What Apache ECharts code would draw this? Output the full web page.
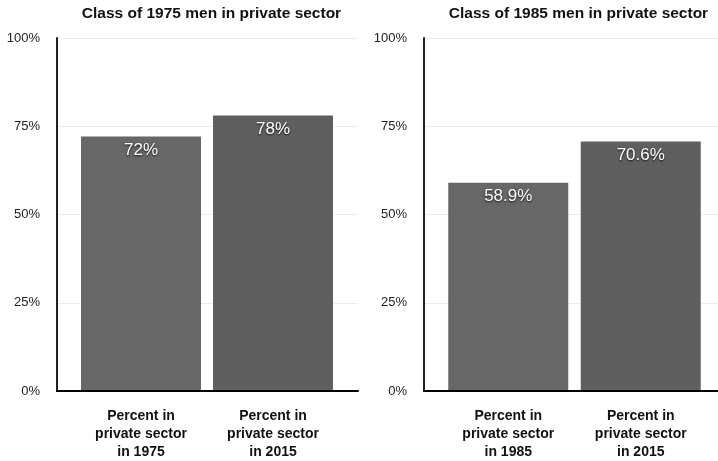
<!DOCTYPE html>
<html>
<head>
<meta charset="utf-8">
<script src="https://cdn.jsdelivr.net/npm/echarts@6/dist/echarts.min.js"></script>
<style>
html,body{margin:0;padding:0;background:#fff;}
#c{width:718px;height:461px;}
</style>
</head>
<body>
<div id="c"></div>
<script>
const titles = ['Class of 1975 men in private sector', 'Class of 1985 men in private sector'];
const categories1 = ['Percent in\nprivate sector\nin 1975', 'Percent in\nprivate sector\nin 2015'];
const categories2 = ['Percent in\nprivate sector\nin 1985', 'Percent in\nprivate sector\nin 2015'];
const values1 = [72, 78];
const values2 = [58.9, 70.6];
const labels1 = ['72%', '78%'];
const labels2 = ['58.9%', '70.6%'];
const yTicks = [0, 25, 50, 75, 100];

const FONT = '"Liberation Sans", Arial, Helvetica, sans-serif';
const barColors = ['#676767', '#5f5f5f'];

const chart = echarts.init(document.getElementById('c'), null, {renderer: 'canvas'});

const axisGrids = [
  {left: 57, top: 38, width: 301, height: 353},
  {left: 424, top: 38, width: 294, height: 353}
];
const barGrids = [
  {left: 75, top: 38, width: 264, height: 353},
  {left: 442, top: 38, width: 265, height: 353}
];

function valueAxis(gi, showAll) {
  return {
    type: 'value', gridIndex: gi, min: yTicks[0], max: yTicks[yTicks.length - 1],
    interval: yTicks[1] - yTicks[0],
    axisLine: {show: showAll, lineStyle: {color: '#222', width: 2}},
    axisTick: {show: false},
    axisLabel: {show: showAll, formatter: '{value}%', color: '#222', fontSize: 13, fontFamily: FONT, margin: 17},
    splitLine: {show: showAll, lineStyle: {color: '#ececec', width: 1}}
  };
}

function buildBarSeries(vals, labs, xi) {
  return {
    type: 'bar', xAxisIndex: xi, yAxisIndex: xi, barWidth: 120,
    data: vals.map((v, i) => ({
      value: v,
      itemStyle: {color: barColors[i]},
      label: {formatter: labs[i]}
    })),
    label: {
      show: true, position: 'insideTop', distance: 5,
      color: '#fff', fontSize: 17, fontFamily: FONT,
      textShadowColor: 'rgba(0,0,0,0.85)', textShadowBlur: 2, textShadowOffsetX: 0, textShadowOffsetY: 1
    },
    silent: true, animation: false
  };
}

const option = {
  animation: false,
  backgroundColor: '#fff',
  title: [
    {text: titles[0], left: 206.5, top: 1, textAlign: 'center',
     textStyle: {fontSize: 15.5, fontWeight: 'bold', color: '#111', fontFamily: FONT}},
    {text: titles[1], left: 573.5, top: 1, textAlign: 'center',
     textStyle: {fontSize: 15.5, fontWeight: 'bold', color: '#111', fontFamily: FONT}}
  ],
  grid: [axisGrids[0], barGrids[0], axisGrids[1], barGrids[1]],
  xAxis: [
    {type: 'value', gridIndex: 0, min: 0, max: 1, axisLine: {show: true, onZero: false, lineStyle: {color: '#000', width: 2}},
     axisTick: {show: false}, axisLabel: {show: false}, splitLine: {show: false}},
    {type: 'category', gridIndex: 1, data: categories1, axisLine: {show: false}, axisTick: {show: false},
     axisLabel: {color: '#111', fontSize: 14, fontWeight: 'bold', fontFamily: FONT, lineHeight: 18, margin: 17, interval: 0}},
    {type: 'value', gridIndex: 2, min: 0, max: 1, axisLine: {show: true, onZero: false, lineStyle: {color: '#000', width: 2}},
     axisTick: {show: false}, axisLabel: {show: false}, splitLine: {show: false}},
    {type: 'category', gridIndex: 3, data: categories2, axisLine: {show: false}, axisTick: {show: false},
     axisLabel: {color: '#111', fontSize: 14, fontWeight: 'bold', fontFamily: FONT, lineHeight: 18, margin: 17, interval: 0}}
  ],
  yAxis: [valueAxis(0, true), valueAxis(1, false), valueAxis(2, true), valueAxis(3, false)],
  series: [
    buildBarSeries(values1, labels1, 1),
    buildBarSeries(values2, labels2, 3)
  ]
};
chart.setOption(option);
</script>
</body>
</html>
